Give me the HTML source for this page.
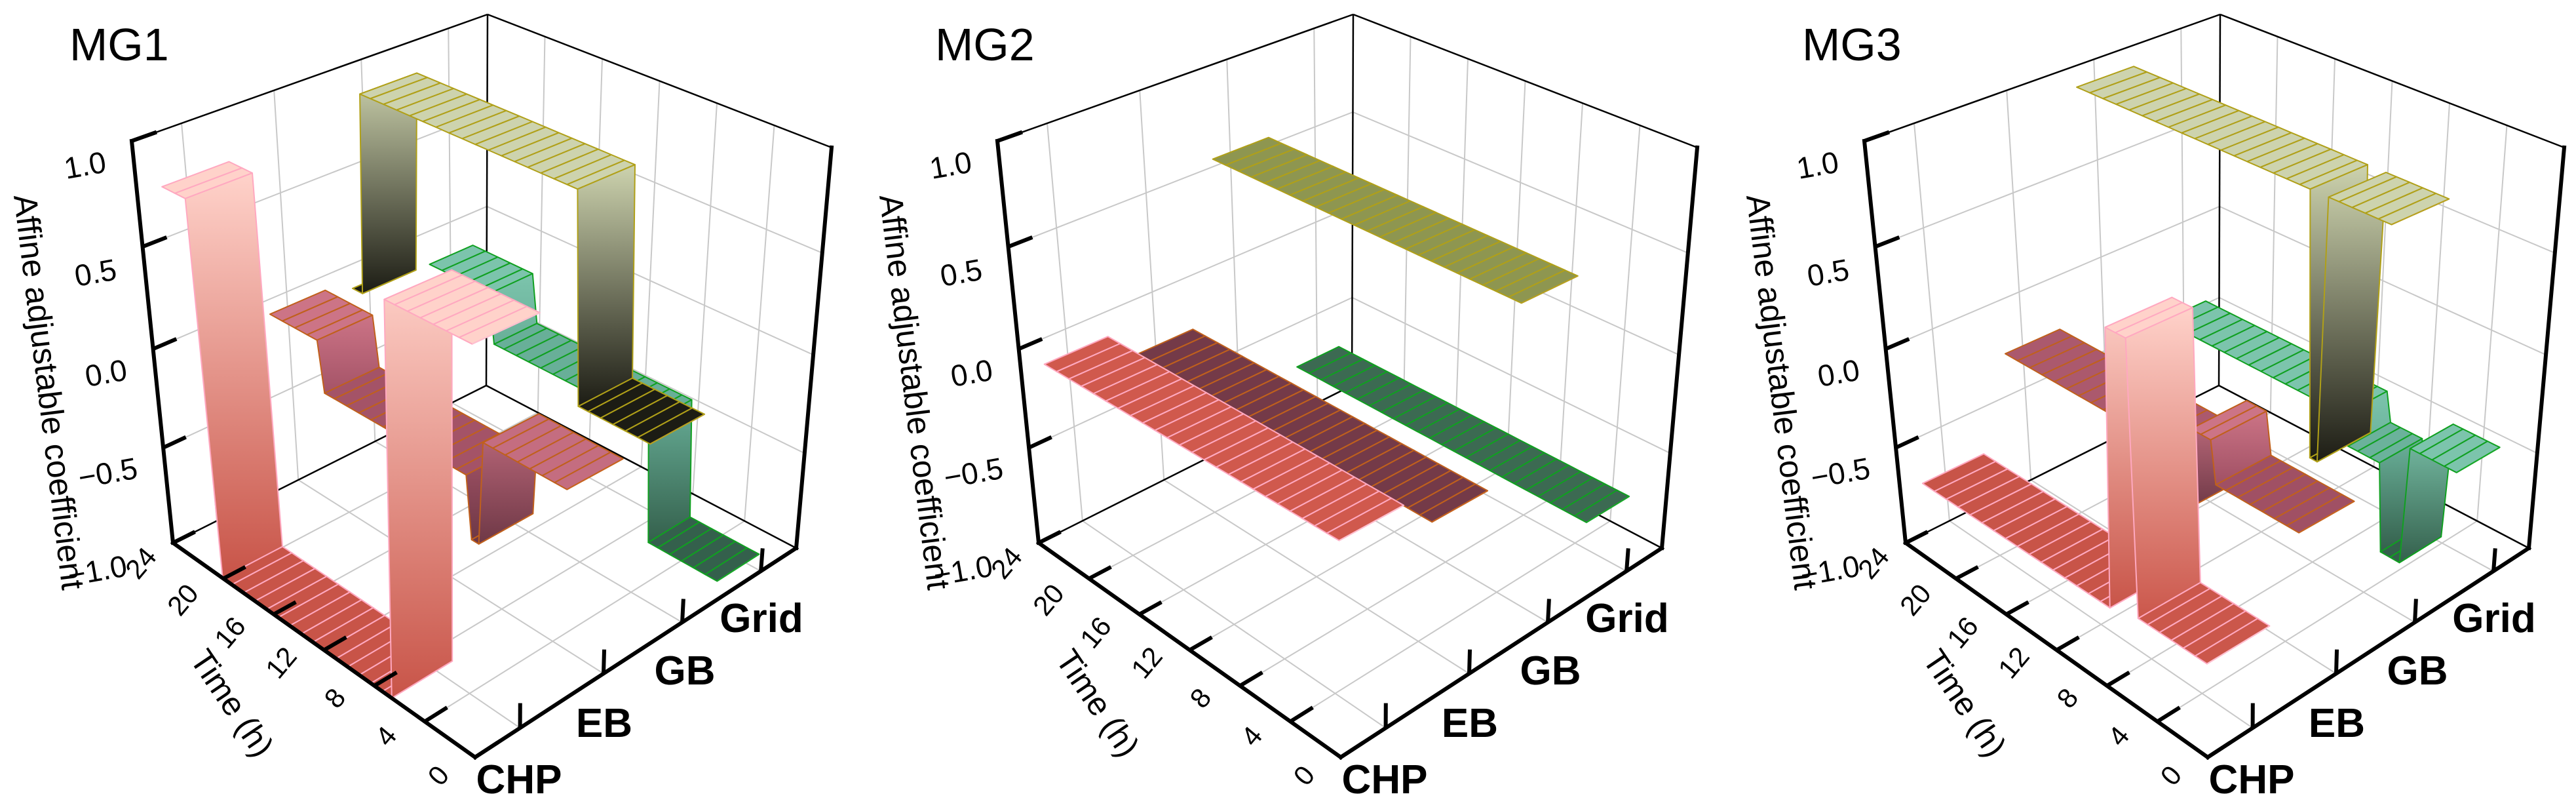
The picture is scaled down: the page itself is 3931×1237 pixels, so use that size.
<!DOCTYPE html>
<html><head><meta charset="utf-8"><style>
html,body{margin:0;padding:0;background:#fff;}
svg{display:block;font-family:"Liberation Sans",Arial,sans-serif;}
</style></head><body>
<svg id="chart" width="3931" height="1237" viewBox="0 0 3931 1237" xmlns="http://www.w3.org/2000/svg">
<defs id="defs"></defs>
<g id="root"></g>
</svg>
<script>
// ---- data (index 0 = hour at t=0, front) ----
const panelTitles = ["MG1", "MG2", "MG3"];
const categories = ["CHP", "EB", "GB", "Grid"];
const zTicks = [-1.0, -0.5, 0.0, 0.5, 1.0];
const zTickLabels = ["\u22121.0", "\u22120.5", "0.0", "0.5", "1.0"];
const timeTicks = [0, 4, 8, 12, 16, 20, 24];

const mg1CHP = [0.85,0.85,0.85,0.85,0.85,0.85,0.85,-1,-1,-1,-1,-1,-1,-1,-1,-1,-1,-1,-1,-1,-1,-1,0.85,0.85];
const mg1EB = [0,0,0,0,0,0,0,-0.5,-0.2,-0.2,-0.2,-0.2,-0.2,-0.2,-0.2,-0.2,-0.2,-0.2,-0.2,-0.2,0.05,0.05,0.05,0.05];
const mg1GB = [0,0,0,0,0,0,1,1,1,1,1,1,1,1,1,1,1,1,1,1,1,1,1,0];
const mg1Grid = [-0.9,-0.9,-0.9,-0.9,-0.9,-0.9,-0.3,-0.3,-0.3,-0.3,-0.3,-0.3,-0.3,-0.3,-0.3,-0.3,-0.3,-0.3,-0.3,-0.05,-0.05,-0.05,-0.05,-0.05];

const mg2CHP = [0,0,0,0,0,0,0,0,0,0,0,0,0,0,0,0,0,0,0,0,0,0,0,0];
const mg2EB = [-0.15,-0.15,-0.15,-0.15,-0.15,-0.15,-0.15,-0.15,-0.15,-0.15,-0.15,-0.15,-0.15,-0.15,-0.15,-0.15,-0.15,-0.15,-0.15,-0.15,-0.15,-0.15,-0.15,-0.15];
const mg2GB = [0.65,0.65,0.65,0.65,0.65,0.65,0.65,0.65,0.65,0.65,0.65,0.65,0.65,0.65,0.65,0.65,0.65,0.65,0.65,0.65,0.65,0.65,0.65,0.65];
const mg2Grid = [-0.6,-0.6,-0.6,-0.6,-0.6,-0.6,-0.6,-0.6,-0.6,-0.6,-0.6,-0.6,-0.6,-0.6,-0.6,-0.6,-0.6,-0.6,-0.6,-0.6,-0.6,-0.6,-0.6,-0.6];

const mg3CHP = [-0.56,-0.56,-0.56,-0.56,-0.56,-0.56,0.7,0.7,-0.6,-0.6,-0.6,-0.6,-0.6,-0.6,-0.6,-0.6,-0.6,-0.6,-0.6,-0.6,-0.6,-0.6,-0.6,-0.6];
const mg3EB = [-0.2,-0.2,-0.2,-0.2,-0.2,-0.2,-0.2,0.0,0.0,-0.4,-0.15,-0.15,-0.15,-0.15,-0.15,-0.15,-0.15,-0.15,-0.15,-0.15,-0.15,-0.15,-0.15,-0.15];
const mg3GB = [1,1,1,1,1,-0.25,1,1,1,1,1,1,1,1,1,1,1,1,1,1,1,1,1,1];
const mg3Grid = [-0.35,-0.35,-0.35,-0.35,-0.95,-0.95,-0.5,-0.5,-0.5,-0.35,-0.35,-0.35,-0.35,-0.35,-0.35,-0.35,-0.35,-0.35,-0.35,-0.35,-0.35,-0.35,-0.35,-0.35];

const panelSeries = [[mg1CHP, mg1EB, mg1GB, mg1Grid],[mg2CHP, mg2EB, mg2GB, mg2Grid],[mg3CHP, mg3EB, mg3GB, mg3Grid]];

// ---- styling / geometry ----
const PANEL_DX = [0, 1321, 2644];
const C = {F0:[725,1155],L0:[264,828],R0:[1215,836],B0:[742,588],F1:[720,470],L1:[201,215],R1:[1269,225],B1:[744,22]};
const ribbonV = [[0.0,0.19],[0.275,0.44],[0.52,0.68],[0.75,0.88]];
const palettes = [
  {dark:[200,84,72], mid:[255,140,124], light:[255,210,202], edge:"#ffa8c0", stripe:"#ffc0d0", flat:"#d0594d"},
  {dark:[110,56,70], mid:[160,80,100], light:[204,116,134], edge:"#c0601c", stripe:"#c8641e", flat:"#743a48"},
  {dark:[28,28,20], mid:[138,140,110], light:[205,211,174], edge:"#b0a018", stripe:"#b8a020", flat:"#8e9650"},
  {dark:[52,96,76], mid:[90,160,138], light:[124,196,172], edge:"#10a020", stripe:"#18a828", flat:"#3c6a52"}
];
const HOUR_U = 0.92/24;
const TICK_V = [0.14, 0.40, 0.645, 0.89];

function lerp(a,b,t){return [a[0]+(b[0]-a[0])*t, a[1]+(b[1]-a[1])*t];}
function P(panel,u,v,z){
  let w=(z+1)/2; w=0.93*w+0.07*w*w;
  const b0=lerp(lerp(C.F0,C.L0,u),lerp(C.R0,C.B0,u),v);
  const b1=lerp(lerp(C.F1,C.L1,u),lerp(C.R1,C.B1,u),v);
  const p=lerp(b0,b1,w);
  return [p[0]+PANEL_DX[panel], p[1]];
}
function uOfTime(t){return t/24;}
function pts(a){return a.map(p=>p[0].toFixed(1)+","+p[1].toFixed(1)).join(" ");}
function mix(c1,c2,t){return [0,1,2].map(i=>Math.round(c1[i]+(c2[i]-c1[i])*t));}
function colorAt(pal,t){const c=t<0.5?mix(pal.dark,pal.mid,t*2):mix(pal.mid,pal.light,(t-0.5)*2);return "rgb("+c.join(",")+")";}

const NS="http://www.w3.org/2000/svg";
const root=document.getElementById("root");
const defs=document.getElementById("defs");
function el(tag,attrs,parent){const e=document.createElementNS(NS,tag);for(const k in attrs)e.setAttribute(k,attrs[k]);(parent||root).appendChild(e);return e;}
let gradId=0;

function drawFrame(p,g){
  const grid="#c8c8c8";
  for(const z of [-0.5,0,0.5]){
    let a=P(p,1,0,z),b=P(p,1,1,z),c=P(p,0,1,z);
    let l=el("polyline",{points:pts([a,b,c]),fill:"none",stroke:grid,"stroke-width":2},g);
    
    
  }
  for(const v of TICK_V){
    let l=el("line",{x1:P(p,1,v,-1)[0],y1:P(p,1,v,-1)[1],x2:P(p,1,v,1)[0],y2:P(p,1,v,1)[1],stroke:grid,"stroke-width":2},g);
    
    
    let f=el("line",{x1:P(p,0,v,-1)[0],y1:P(p,0,v,-1)[1],x2:P(p,1,v,-1)[0],y2:P(p,1,v,-1)[1],stroke:grid,"stroke-width":2},g);
    
    
  }
  for(const t of timeTicks.slice(1,6)){
    const u=uOfTime(t);
    let l=el("line",{x1:P(p,u,1,-1)[0],y1:P(p,u,1,-1)[1],x2:P(p,u,1,1)[0],y2:P(p,u,1,1)[1],stroke:grid,"stroke-width":2},g);
    
    
    let f=el("line",{x1:P(p,u,0,-1)[0],y1:P(p,u,0,-1)[1],x2:P(p,u,1,-1)[0],y2:P(p,u,1,-1)[1],stroke:grid,"stroke-width":2},g);
    
    
  }
  const thin=[[[1,0,1],[1,1,1]],[[1,1,1],[0,1,1]],[[1,1,-1],[1,1,1]],[[1,0,-1],[1,1,-1]],[[1,1,-1],[0,1,-1]]];
  for(const e of thin){
    const a=P(p,...e[0]),b=P(p,...e[1]);
    let l=el("line",{x1:a[0],y1:a[1],x2:b[0],y2:b[1],stroke:"#000","stroke-width":2.5},g);
    
    
  }
}

function drawAxes(p,g){
  const thick=[[[0,0,-1],[1,0,-1]],[[0,0,-1],[0,1,-1]],[[1,0,-1],[1,0,1]],[[0,1,-1],[0,1,1]]];
  for(const e of thick){
    const a=P(p,...e[0]),b=P(p,...e[1]);
    let l=el("line",{x1:a[0],y1:a[1],x2:b[0],y2:b[1],stroke:"#000","stroke-width":6,"stroke-linecap":"square"},g);
    
    
  }
  for(const z of zTicks){
    const a=P(p,1,0,z),b=P(p,1,0.07,z);
    let l=el("line",{x1:a[0],y1:a[1],x2:b[0],y2:b[1],stroke:"#000","stroke-width":6},g);
    
    
  }
  for(const t of timeTicks){
    const u=uOfTime(t);const a=P(p,u,0,-1),b=P(p,u,0.07,-1);
    let l=el("line",{x1:a[0],y1:a[1],x2:b[0],y2:b[1],stroke:"#000","stroke-width":6},g);
    
    
  }
  for(const v of TICK_V){
    const a=P(p,0,v,-1),b=P(p,0,v,-0.88);
    let l=el("line",{x1:a[0],y1:a[1],x2:b[0],y2:b[1],stroke:"#000","stroke-width":6},g);
    
    
  }
}

function drawRibbon(p,si,vals,g){
  const pal=palettes[si];const [v0,v1]=ribbonV[si];
  const mn=Math.min(...vals),mx=Math.max(...vals);
  const col=z=>mx===mn?pal.flat:colorAt(pal,(z-mn)/(mx-mn));
  const s=0.2*HOUR_U;const n=vals.length;
  const rg=el("g",{},g);
  
  
  for(let k=n-1;k>=0;k--){
    let a=k*HOUR_U,b=(k+1)*HOUR_U;
    if(k>0&&vals[k-1]!==vals[k])a+=s;
    if(k<n-1&&vals[k+1]!==vals[k])b-=s;
    const z=vals[k];
    const q=[P(p,a,v0,z),P(p,b,v0,z),P(p,b,v1,z),P(p,a,v1,z)];
    let f=el("polygon",{points:pts(q),fill:col(z),stroke:pal.edge,"stroke-width":2,"stroke-linejoin":"round"},rg);
    
    
    let sl=el("line",{x1:q[0][0],y1:q[0][1],x2:q[3][0],y2:q[3][1],stroke:pal.stripe,"stroke-width":2},rg);
    
    
    if(k>0&&vals[k-1]!==vals[k]){
      const z2=vals[k-1];const b2=k*HOUR_U-s;
      const w=[P(p,a,v0,z),P(p,a,v1,z),P(p,b2,v1,z2),P(p,b2,v0,z2)];
      const id="gr"+(gradId++);
      const hi=Math.max(z,z2),lo=Math.min(z,z2);
      const lg=el("linearGradient",{id:id,x1:0,y1:0,x2:0,y2:1},defs);
      el("stop",{offset:"0","stop-color":col(hi)},lg);
      el("stop",{offset:"1","stop-color":col(lo)},lg);
      let wl=el("polygon",{points:pts(w),fill:"url(#"+id+")",stroke:pal.edge,"stroke-width":2,"stroke-linejoin":"round"},rg);
      
      
    }
  }
}

function txt(x,y,s,size,attrs,g,name){
  const t=el("text",Object.assign({x:x,y:y,"font-size":size,fill:"#000"},attrs),g);
  t.textContent=s;
  
  
  return t;
}

for(let p=0;p<3;p++){
  const dx=PANEL_DX[p];
  const g=el("g",{});
  
  
  drawFrame(p,g);
  const order=[3,2,1,0];
  for(const si of order) drawRibbon(p,si,panelSeries[p][si],g);
  drawAxes(p,g);
  txt(106+dx,92,panelTitles[p],70,{},g,'panel-title');
  const zl=[[196,878],[212,729],[196,579],[180,426],[164,262]];
  for(let i=0;i<zTicks.length;i++){
    const [x,y]=zl[i];
    txt(x+dx,y,zTickLabels[i],46,{"text-anchor":"end",transform:"rotate(-10 "+(x+dx)+" "+y+")"},g,'z-tick-label');
  }
  const tl=[[680,1192],[600,1132],[522,1074],[440,1020],[362,974],[290,924],[226,868]];
  for(let i=0;i<timeTicks.length;i++){
    const [x,y]=tl[i];
    txt(x+dx,y,String(timeTicks[i]),42,{"text-anchor":"middle",transform:"rotate(-50 "+(x+dx)+" "+y+")"},g,'time-tick-label');
  }
  txt(340+dx,1082,"Time (h)",50,{"text-anchor":"middle",transform:"rotate(56 "+(340+dx)+" 1082)"},g,'time-axis-title');
  txt(58+dx,600,"Affine adjustable coefficient",50,{"text-anchor":"middle",transform:"rotate(83 "+(58+dx)+" 600)"},g,'y-axis-title');
  const cl=[[792,1210],[922,1124],[1045,1044],[1162,964]];
  for(let i=0;i<categories.length;i++){
    txt(cl[i][0]+dx,cl[i][1],categories[i],62,{"text-anchor":"middle","font-weight":"bold"},g,'category-label');
  }
}
</script>
</body></html>
